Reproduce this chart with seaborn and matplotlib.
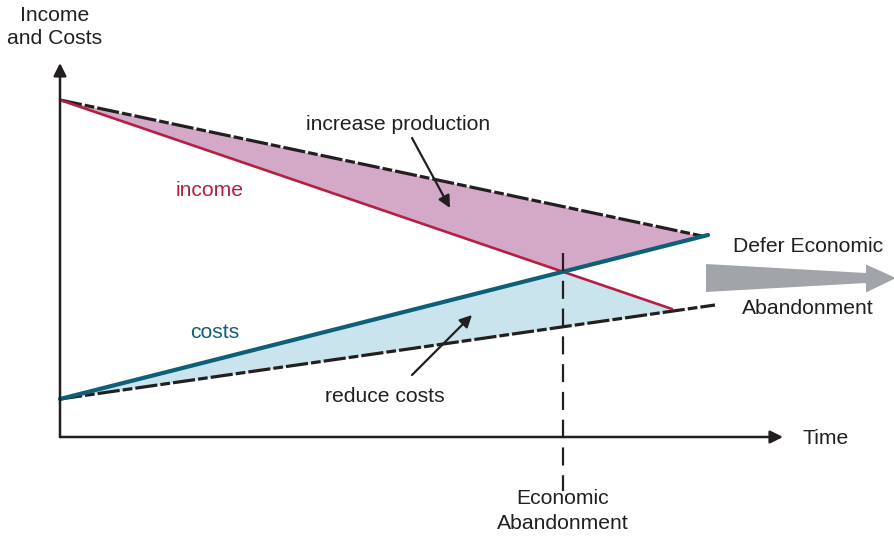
import seaborn as sns
import matplotlib.pyplot as plt
import numpy as np
from matplotlib.patches import Polygon

# schematic values (time units, arbitrary money units)
income_t = [0, 12.24]
income_v = [6.74, 2.56]
prod_t = [0, 12.84]
prod_v = [6.74, 4.02]
cost_t = [0, 12.96]
cost_v = [0.76, 4.04]
reduced_t = [0, 13.1]
reduced_v = [0.76, 2.64]

RED = "#b52041"
TEAL = "#0e5f78"
PURPLE = "#d4a9c8"
BLUE = "#c9e4ec"
GREY = "#a1a5a9"
INK = "#231f20"

sns.set_theme(style="white")
plt.rcParams['font.family'] = ['Liberation Sans', 'DejaVu Sans']
plt.rcParams['lines.scale_dashes'] = False
fs = 15.2

fig = plt.figure(figsize=(8.95, 5.37), dpi=100)
ax = fig.add_axes([0, 0, 1, 1])
ax.set_xlim(-1.2, 16.7)
ax.set_ylim(-2, 8.74)
ax.axis("off")

# fills between the lines
x = np.linspace(0, prod_t[1], 400)
top = np.interp(x, prod_t, prod_v)
low = np.maximum(np.interp(x, income_t, income_v), np.interp(x, cost_t, cost_v))
ax.fill_between(x, low, top, color=PURPLE, lw=0, zorder=1)

x2 = np.linspace(0, income_t[1], 400)
up2 = np.minimum(np.interp(x2, income_t, income_v), np.interp(x2, cost_t, cost_v))
low2 = np.interp(x2, reduced_t, reduced_v)
ax.fill_between(x2, low2, up2, color=BLUE, lw=0, zorder=1)

# lines
dash = (0, (16, 2.2, 7, 2.2))
sns.lineplot(x=prod_t, y=prod_v, ax=ax, color=INK, linewidth=2.3, linestyle=dash, zorder=3)
sns.lineplot(x=reduced_t, y=reduced_v, ax=ax, color=INK, linewidth=2.3, linestyle=dash, zorder=3)
sns.lineplot(x=income_t, y=income_v, ax=ax, color=RED, linewidth=1.9, zorder=4)
sns.lineplot(x=cost_t, y=cost_v, ax=ax, color=TEAL, linewidth=3.0, zorder=4)

# economic abandonment point (income meets costs)
si = (income_v[1] - income_v[0]) / income_t[1]
sc = (cost_v[1] - cost_v[0]) / cost_t[1]
x_ab = (cost_v[0] - income_v[0]) / (si - sc)
y_ab = income_v[0] + si * x_ab
ax.plot([x_ab, x_ab], [y_ab + 0.38, -1.08], color=INK, lw=1.6,
        linestyle=(0, (13, 7)), zorder=5)

# axes with arrow heads
x_end, y_end = 14.46, 7.48
ax.annotate("", xy=(x_end, 0), xytext=(0, 0),
            arrowprops=dict(arrowstyle="-|>", color=INK, lw=1.8, mutation_scale=19, shrinkA=0, shrinkB=0), zorder=6)
ax.annotate("", xy=(0, y_end), xytext=(0, 0),
            arrowprops=dict(arrowstyle="-|>", color=INK, lw=1.8, mutation_scale=19, shrinkA=0, shrinkB=0), zorder=6)

# grey "defer" arrow, slightly tapered
ax0, ax1, ay = 12.92, 16.72, 3.18
hx = ax1 - 0.6
arrow = Polygon([(ax0, ay + 0.28), (hx, ay + 0.1), (hx, ay + 0.27), (ax1, ay),
                 (hx, ay - 0.29), (hx, ay - 0.1), (ax0, ay - 0.28)],
                closed=True, color=GREY, lw=0, zorder=2)
ax.add_patch(arrow)

# labels
ax.text(-0.1, 8.2, "Income\nand Costs", ha="center", va="center", fontsize=fs, color=INK, linespacing=1.3)
ax.text(3.0, 4.94, "income", ha="center", va="center", fontsize=fs, color=RED)
ax.text(3.1, 2.08, "costs", ha="center", va="center", fontsize=fs, color=TEAL)
ax.text(15.32, -0.02, "Time", ha="center", va="center", fontsize=fs, color=INK)
ax.text(x_ab, -1.48, "Economic\nAbandonment", ha="center", va="center", fontsize=fs, color=INK, linespacing=1.45)
ax.text(14.96, 3.82, "Defer Economic", ha="center", va="center", fontsize=fs, color=INK)
ax.text(14.96, 2.58, "Abandonment", ha="center", va="center", fontsize=fs, color=INK)

ax.text(6.76, 6.24, "increase production", ha="center", va="center", fontsize=fs, color=INK)
ax.text(6.5, 0.82, "reduce costs", ha="center", va="center", fontsize=fs, color=INK)
ax.annotate("", xy=(7.8, 4.58), xytext=(7.04, 5.98),
            arrowprops=dict(arrowstyle="-|>", color=INK, lw=1.6, mutation_scale=18,
                            shrinkA=0, shrinkB=0), zorder=7)
ax.annotate("", xy=(8.24, 2.44), xytext=(7.04, 1.24),
            arrowprops=dict(arrowstyle="-|>", color=INK, lw=1.6, mutation_scale=18,
                            shrinkA=0, shrinkB=0), zorder=7)

plt.savefig("out.png", dpi=100)
